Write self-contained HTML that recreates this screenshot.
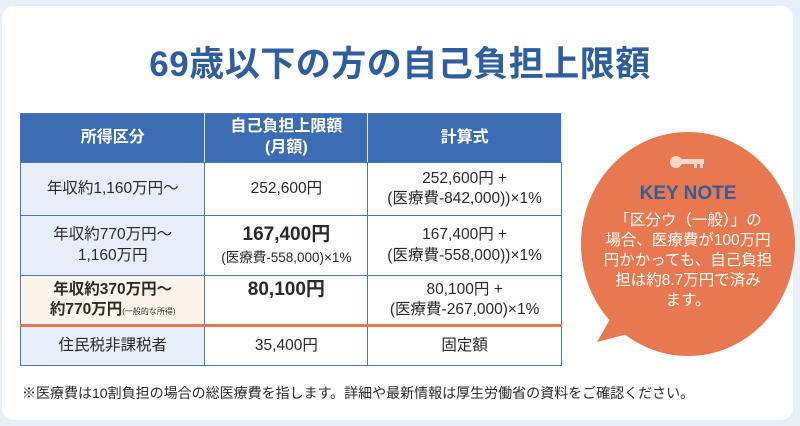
<!DOCTYPE html>
<html><head><meta charset="utf-8"><style>
*{margin:0;padding:0;box-sizing:border-box}
body{width:800px;height:426px;background:#e9eff8;font-family:"Liberation Sans","Noto Sans CJK JP",sans-serif;position:relative;overflow:hidden;color:#2a2a2a}
.card{position:absolute;left:2px;top:6px;width:791px;height:414px;background:#fff;border-radius:12px}
h1{position:absolute;left:0;width:800px;top:36px;text-align:center;font-size:35px;font-weight:bold;color:#2e5e9f;letter-spacing:0.5px}
table{position:absolute;left:20px;top:113px;border-collapse:collapse;width:542px;font-size:15.5px;text-align:center}
td,th{border:1.5px solid #4a78b8;line-height:1.3}
th{background:#3b6cb4;color:#fff;font-weight:bold;font-size:16px;height:49px;border-right-color:#dfe8f5}
.c1{background:#e5eef9}
.c3r{background:#fbf4ea}
.big{font-weight:bold;font-size:19px}
.sep td{border-top:3px solid #e8774e}
.note{position:absolute;left:22px;top:383px;font-size:14px}
.bubble{position:absolute;left:580px;top:132px;width:216px;height:225px}
.kt{position:absolute;left:580px;width:216px;text-align:center;color:#fff}
</style></head><body>
<div class="card"></div>
<h1>69歳以下の方の自己負担上限額</h1>
<table>
<colgroup><col style="width:185px"><col style="width:163px"><col style="width:194px"></colgroup>
<tr><th>所得区分</th><th>自己負担上限額<br>(月額)</th><th>計算式</th></tr>
<tr style="height:53px"><td class="c1">年収約1,160万円〜</td><td>252,600円</td><td>252,600円 +<br>(医療費-842,000))×1%</td></tr>
<tr style="height:60px"><td class="c1">年収約770万円〜<br>1,160万円</td><td><span class="big">167,400円</span><br><span style="font-size:13.5px">(医療費-558,000)×1%</span></td><td>167,400円 +<br>(医療費-558,000))×1%</td></tr>
<tr style="height:50px"><td class="c3r" style="font-weight:bold">年収約370万円〜<br>約770万円<span style="font-size:8px;font-weight:normal">(一般的な所得)</span></td><td><span class="big">80,100円</span><br>&nbsp;</td><td>80,100円 +<br>(医療費-267,000)×1%</td></tr>
<tr class="sep" style="height:40px"><td class="c1">住民税非課税者</td><td>35,400円</td><td>固定額</td></tr>
</table>
<svg class="bubble" viewBox="0 0 216 225">
<ellipse cx="108" cy="112" rx="107" ry="112" fill="#e8784f"/>
<polygon points="40,170 17,210 75,195" fill="#e8784f"/>
<circle cx="96" cy="30" r="6" fill="#fbd9c8"/><rect x="100" y="27" width="24" height="5" fill="#fbd9c8"/><rect x="114" y="31" width="3" height="5" fill="#fbd9c8"/><rect x="120" y="31" width="3" height="5" fill="#fbd9c8"/>
</svg>
<div class="kt" style="top:183px;font-size:19px;font-weight:bold;color:#2e5e9f">KEY NOTE</div>
<div class="kt" style="top:211px;font-size:15.5px;line-height:20px">「区分ウ（一般）」の<br>場合、医療費が100万円<br>円かかっても、自己負担<br>担は約8.7万円で済み<br>ます。</div>
<div class="note">※医療費は10割負担の場合の総医療費を指します。詳細や最新情報は厚生労働省の資料をご確認ください。</div>
</body></html>
